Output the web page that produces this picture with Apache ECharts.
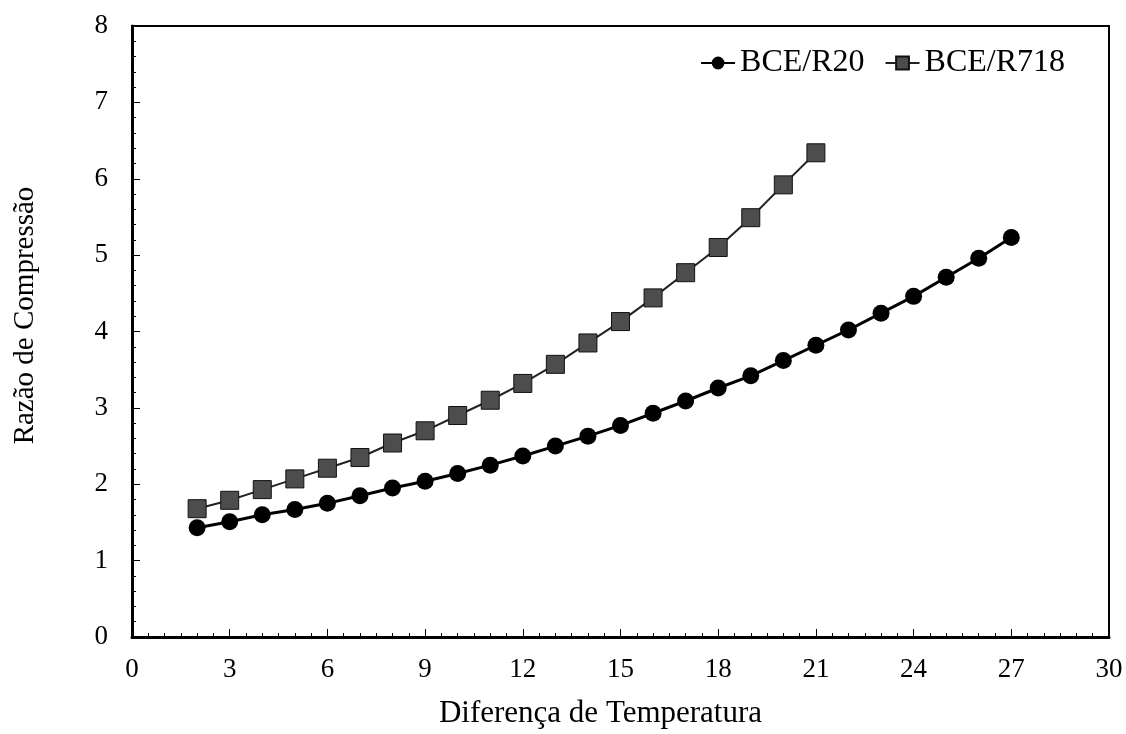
<!DOCTYPE html>
<html>
<head>
<meta charset="utf-8">
<script src="https://cdn.jsdelivr.net/npm/echarts@6/dist/echarts.min.js"></script>
<style>
html,body{margin:0;padding:0;background:#fff;}
#chart{width:1126px;height:734px;}
</style>
</head>
<body>
<div id="chart"></div>
<script>
// Data
const xR20 = [2,3,4,5,6,7,8,9,10,11,12,13,14,15,16,17,18,19,20,21,22,23,24,25,26,27];
const yR20 = [1.43,1.51,1.60,1.67,1.75,1.85,1.95,2.04,2.14,2.25,2.37,2.50,2.63,2.77,2.93,3.09,3.26,3.42,3.62,3.82,4.02,4.24,4.46,4.71,4.96,5.23];
const xR718 = [2,3,4,5,6,7,8,9,10,11,12,13,14,15,16,17,18,19,20,21];
const yR718 = [1.68,1.79,1.93,2.07,2.21,2.35,2.54,2.70,2.90,3.10,3.32,3.57,3.85,4.13,4.44,4.77,5.10,5.49,5.92,6.34];
const seriesNames = ['BCE/R20','BCE/R718'];
const xTitle = 'Diferença de Temperatura';
const yTitle = 'Razão de Compressão';

const pairs = (xs, ys) => xs.map((x, i) => [x, ys[i]]);
const font = 'Liberation Serif';

const chart = echarts.init(document.getElementById('chart'));
chart.setOption({
  animation: false,
  backgroundColor: '#fff',
  textStyle: { fontFamily: font, color: '#000' },
  grid: { left: 132, right: 17, top: 26, bottom: 97, show: true, borderColor: '#000', borderWidth: 2, backgroundColor: 'transparent' },
  legend: {
    top: 42, right: 56,
    itemGap: 20, itemWidth: 34, itemHeight: 16,
    textStyle: { fontFamily: font, fontSize: 32, color: '#000' },
    data: seriesNames
  },
  xAxis: {
    type: 'value', min: 0, max: 30, interval: 3,
    name: xTitle, nameLocation: 'middle', nameGap: 61,
    nameTextStyle: { fontFamily: font, fontSize: 31, color: '#000', padding: [0, 40, 0, 0] },
    axisLine: { show: true, lineStyle: { color: '#000', width: 3 } },
    axisTick: { show: true, inside: true, length: 8, lineStyle: { color: '#000', width: 1 } },
    minorTick: { show: true, splitNumber: 6, length: 4, lineStyle: { color: '#000', width: 1 } },
    splitLine: { show: false },
    axisLabel: { fontFamily: font, fontSize: 27, color: '#000', margin: 19 }
  },
  yAxis: {
    type: 'value', min: 0, max: 8, interval: 1,
    name: yTitle, nameLocation: 'middle', nameGap: 92,
    nameTextStyle: { fontFamily: font, fontSize: 29, color: '#000', padding: [0, 0, 0, 32] },
    axisLine: { show: true, lineStyle: { color: '#000', width: 3 } },
    axisTick: { show: true, inside: true, length: 8, lineStyle: { color: '#000', width: 1 } },
    minorTick: { show: true, splitNumber: 5, length: 4, lineStyle: { color: '#000', width: 1 } },
    splitLine: { show: false },
    axisLabel: { fontFamily: font, fontSize: 27, color: '#000', margin: 24 }
  },
  series: [
    {
      name: seriesNames[0], type: 'line',
      data: pairs(xR20, yR20),
      symbol: 'circle', symbolSize: 17,
      itemStyle: { color: '#000' },
      lineStyle: { color: '#000', width: 3 }
    },
    {
      name: seriesNames[1], type: 'line',
      data: pairs(xR718, yR718),
      symbol: 'rect', symbolSize: 18,
      itemStyle: { color: '#4d4d4d', borderColor: '#111', borderWidth: 1 },
      lineStyle: { color: '#222', width: 2 }
    }
  ]
});
</script>
</body>
</html>
